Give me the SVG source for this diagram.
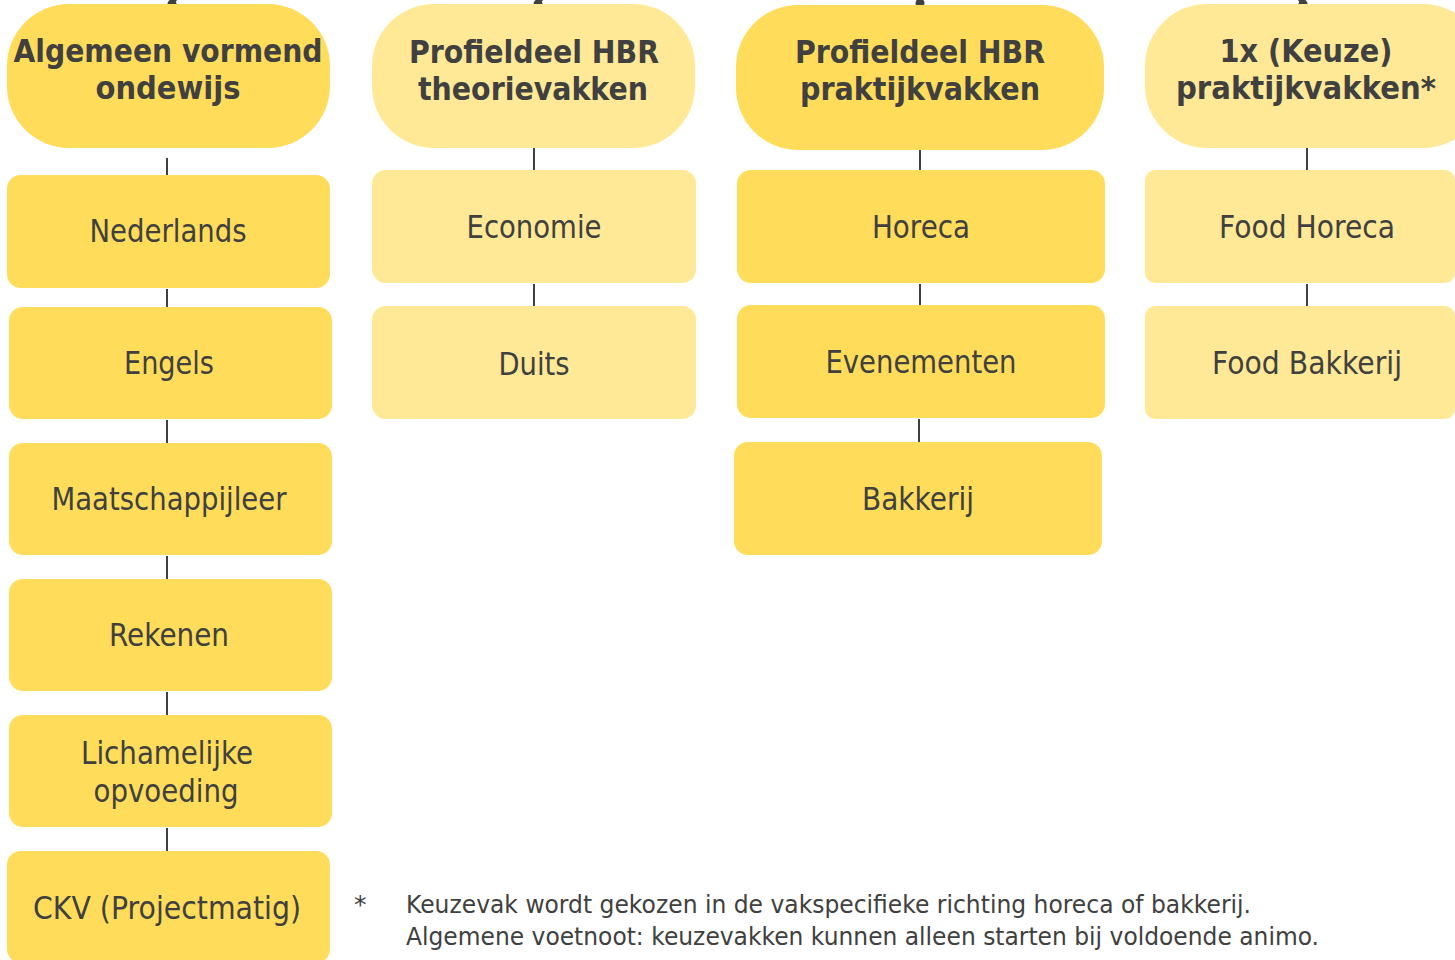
<svg xmlns="http://www.w3.org/2000/svg" width="1455" height="960" viewBox="0 0 1455 960">
<style>
.strong{fill:#FFDD5A}
.light{fill:#FFE996}
.hd{font-family:"DejaVu Sans","Liberation Sans",sans-serif;font-weight:bold;font-size:31.5px;fill:#404040;text-anchor:middle}
.tx{font-family:"DejaVu Sans","Liberation Sans",sans-serif;font-size:31.5px;fill:#404040;text-anchor:middle}
.fn{font-family:"DejaVu Sans","Liberation Sans",sans-serif;font-size:25px;fill:#404040}
.ln{stroke:#404040;stroke-width:2;fill:none}
.dot{fill:#404040}
</style>
<rect width="1455" height="960" fill="#ffffff"/>
<g id="connectors">
<path class="ln" d="M181,-6 Q177,-1 172,4"/><circle class="dot" cx="172" cy="4" r="4.5"/>
<path class="ln" d="M547,-6 Q543,-1 538,4"/><circle class="dot" cx="538" cy="4" r="4.5"/>
<path class="ln" d="M920,-6 L920,3"/><circle class="dot" cx="920" cy="3" r="4.5"/>
<path class="ln" d="M1294,-6 Q1298,-1 1303,4"/><circle class="dot" cx="1303" cy="4" r="4.5"/>
<line class="ln" x1="167" y1="158" x2="167" y2="175"/>
<line class="ln" x1="167" y1="289" x2="167" y2="307"/>
<line class="ln" x1="167" y1="420" x2="167" y2="443"/>
<line class="ln" x1="167" y1="556" x2="167" y2="579"/>
<line class="ln" x1="167" y1="692" x2="167" y2="715"/>
<line class="ln" x1="167" y1="828" x2="167" y2="851"/>
<line class="ln" x1="534" y1="148" x2="534" y2="170"/>
<line class="ln" x1="534" y1="284" x2="534" y2="306"/>
<line class="ln" x1="920" y1="150" x2="920" y2="170"/>
<line class="ln" x1="920" y1="284" x2="920" y2="305"/>
<line class="ln" x1="919" y1="419" x2="919" y2="442"/>
<line class="ln" x1="1307" y1="148" x2="1307" y2="170"/>
<line class="ln" x1="1307" y1="284" x2="1307" y2="306"/>
</g>
<g id="h1"><rect class="strong" x="7" y="4" width="323" height="144" rx="62"/>
<text class="hd" x="168" y="62" textLength="309" lengthAdjust="spacingAndGlyphs">Algemeen vormend</text>
<text class="hd" x="168" y="99" textLength="145" lengthAdjust="spacingAndGlyphs">ondewijs</text></g>
<g id="nederlands"><rect class="strong" x="7" y="175" width="323" height="113" rx="14"/>
<text class="tx" x="168" y="242" textLength="157" lengthAdjust="spacingAndGlyphs">Nederlands</text></g>
<g id="engels"><rect class="strong" x="9" y="307" width="323" height="112" rx="14"/>
<text class="tx" x="169" y="374" textLength="90" lengthAdjust="spacingAndGlyphs">Engels</text></g>
<g id="maatschappijleer"><rect class="strong" x="9" y="443" width="323" height="112" rx="14"/>
<text class="tx" x="169" y="510" textLength="235" lengthAdjust="spacingAndGlyphs">Maatschappijleer</text></g>
<g id="rekenen"><rect class="strong" x="9" y="579" width="323" height="112" rx="14"/>
<text class="tx" x="169" y="646" textLength="120" lengthAdjust="spacingAndGlyphs">Rekenen</text></g>
<g id="lo"><rect class="strong" x="9" y="715" width="323" height="112" rx="14"/>
<text class="tx" x="167" y="764" textLength="172" lengthAdjust="spacingAndGlyphs">Lichamelijke</text>
<text class="tx" x="166" y="802" textLength="145" lengthAdjust="spacingAndGlyphs">opvoeding</text></g>
<g id="ckv"><rect class="strong" x="7" y="851" width="323" height="112" rx="14"/>
<text class="tx" x="167" y="919" textLength="268" lengthAdjust="spacingAndGlyphs">CKV (Projectmatig)</text></g>
<g id="h2"><rect class="light" x="372" y="4" width="323" height="144" rx="62"/>
<text class="hd" x="534" y="63" textLength="250" lengthAdjust="spacingAndGlyphs">Profieldeel HBR</text>
<text class="hd" x="533" y="100" textLength="230" lengthAdjust="spacingAndGlyphs">theorievakken</text></g>
<g id="economie"><rect class="light" x="372" y="170" width="324" height="113" rx="14"/>
<text class="tx" x="534" y="238" textLength="135" lengthAdjust="spacingAndGlyphs">Economie</text></g>
<g id="duits"><rect class="light" x="372" y="306" width="324" height="113" rx="14"/>
<text class="tx" x="534" y="375" textLength="71" lengthAdjust="spacingAndGlyphs">Duits</text></g>
<g id="h3"><rect class="strong" x="736" y="5" width="368" height="145" rx="62"/>
<text class="hd" x="920" y="63" textLength="250" lengthAdjust="spacingAndGlyphs">Profieldeel HBR</text>
<text class="hd" x="920" y="100" textLength="240" lengthAdjust="spacingAndGlyphs">praktijkvakken</text></g>
<g id="horeca"><rect class="strong" x="737" y="170" width="368" height="113" rx="14"/>
<text class="tx" x="921" y="238" textLength="98" lengthAdjust="spacingAndGlyphs">Horeca</text></g>
<g id="evenementen"><rect class="strong" x="737" y="305" width="368" height="113" rx="14"/>
<text class="tx" x="921" y="373" textLength="191" lengthAdjust="spacingAndGlyphs">Evenementen</text></g>
<g id="bakkerij"><rect class="strong" x="734" y="442" width="368" height="113" rx="14"/>
<text class="tx" x="918" y="510" textLength="112" lengthAdjust="spacingAndGlyphs">Bakkerij</text></g>
<g id="h4"><rect class="light" x="1145" y="4" width="340" height="144" rx="62"/>
<text class="hd" x="1306" y="62" textLength="173" lengthAdjust="spacingAndGlyphs">1x (Keuze)</text>
<text class="hd" x="1306" y="99" textLength="260" lengthAdjust="spacingAndGlyphs">praktijkvakken*</text></g>
<g id="foodhoreca"><rect class="light" x="1145" y="170" width="310" height="113" rx="10"/>
<text class="tx" x="1307" y="238" textLength="176" lengthAdjust="spacingAndGlyphs">Food Horeca</text></g>
<g id="foodbakkerij"><rect class="light" x="1145" y="306" width="310" height="113" rx="10"/>
<text class="tx" x="1307" y="374" textLength="190" lengthAdjust="spacingAndGlyphs">Food Bakkerij</text></g>
<g id="footnote">
<text class="fn" x="354" y="913">*</text>
<text class="fn" x="406" y="913" textLength="845" lengthAdjust="spacingAndGlyphs">Keuzevak wordt gekozen in de vakspecifieke richting horeca of bakkerij.</text>
<text class="fn" x="406" y="945" textLength="913" lengthAdjust="spacingAndGlyphs">Algemene voetnoot: keuzevakken kunnen alleen starten bij voldoende animo.</text>
</g>
</svg>
